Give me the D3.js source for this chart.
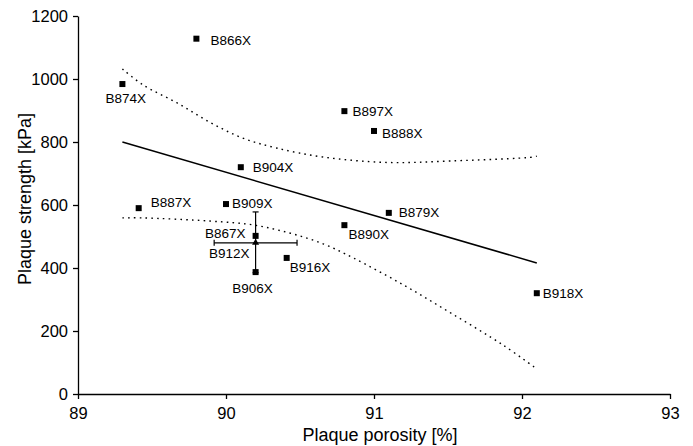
<!DOCTYPE html>
<html>
<head>
<meta charset="utf-8">
<script src="https://cdn.jsdelivr.net/npm/d3@7"></script>
<style>
  body { margin: 0; background: #fff; }
  svg text { font-family: "Liberation Sans", Arial, sans-serif; fill: #000; }
</style>
</head>
<body>
<div id="chart"></div>
<script>
// samples (porosity %, strength kPa)
var names = ["B866X", "B874X", "B897X", "B888X", "B904X", "B887X", "B909X", "B879X", "B890X", "B867X", "B906X", "B916X", "B918X"];
var porosity = [89.8, 89.3, 90.8, 91.0, 90.1, 89.41, 90.0, 91.1, 90.8, 90.2, 90.2, 90.41, 92.1];
var strength = [1128, 984, 898, 835, 720, 590, 603, 575, 536, 502, 387, 432, 320];
// label placement: [dx, dy, anchor]
var labelPos = [
  [14, 2, "start"], [-17, 14, "start"], [8, 0, "start"], [8, 2, "start"], [12, 0, "start"],
  [12, -6, "start"], [6, -1, "start"], [10, -1, "start"], [4, 9, "start"], [-10, -3, "end"],
  [-3, 16, "middle"], [3, 9, "start"], [6, 0, "start"]
];

// mean sample with error bars
var meanName = "B912X";
var meanPorosity = 90.2, meanStrength = 480;
var meanPorosityRange = [89.92, 90.48];
var meanStrengthRange = [385, 578];

// regression line and confidence band
var fitX = [89.3, 92.1];
var fitY = [800, 416];
var upperX = [89.3, 89.44, 89.67, 89.89, 90.11, 90.34, 90.66, 91.09, 91.53, 92.07, 92.1];
var upperY = [1032, 981, 924, 863, 813, 781, 752, 735, 740, 752, 755];
var lowerX = [89.3, 89.44, 89.89, 90.18, 90.43, 90.66, 90.86, 91.2, 91.53, 91.87, 92.09];
var lowerY = [559, 559, 549, 537, 511, 476, 432, 346, 254, 156, 83];

var xTicks = [89, 90, 91, 92, 93];
var yTicks = [0, 200, 400, 600, 800, 1000, 1200];

var width = 693, height = 446;
var margin = { top: 16, right: 23, bottom: 52, left: 78 };

var svg = d3.select('#chart').append('svg')
    .attr('width', width)
    .attr('height', height);

var x = d3.scaleLinear().domain([89, 93]).range([margin.left, width - margin.right]);
var y = d3.scaleLinear().domain([0, 1200]).range([height - margin.bottom, margin.top]);

var xAxis = svg.append('g')
    .attr('transform', 'translate(0,' + y(0) + ')')
    .call(d3.axisBottom(x).tickValues(xTicks).tickFormat(d3.format('d')).tickSize(5).tickPadding(8).tickSizeOuter(0));
var yAxis = svg.append('g')
    .attr('transform', 'translate(' + x(89) + ',0)')
    .call(d3.axisLeft(y).tickValues(yTicks).tickFormat(d3.format('d')).tickSize(5).tickPadding(5).tickSizeOuter(0));

[xAxis, yAxis].forEach(function (a) {
    a.selectAll('text').style('font-size', '16.5px').attr('fill', '#000');
    a.selectAll('line').attr('stroke', '#000').attr('stroke-width', 1.3);
    a.select('.domain').attr('stroke', '#000').attr('stroke-width', 1.3);
});

svg.append('text')
    .attr('x', 380)
    .attr('y', 441)
    .attr('text-anchor', 'middle')
    .style('font-size', '18px')
    .text('Plaque porosity [%]');

svg.append('text')
    .attr('transform', 'translate(31,' + 199 + ') rotate(-90)')
    .attr('text-anchor', 'middle')
    .style('font-size', '18px')
    .text('Plaque strength [kPa]');

// fit line
var line = d3.line().x(function (d) { return x(d[0]); }).y(function (d) { return y(d[1]); });
svg.append('path')
    .datum(d3.zip(fitX, fitY))
    .attr('d', line)
    .attr('fill', 'none')
    .attr('stroke', '#000')
    .attr('stroke-width', 1.5);

// confidence band (dotted)
var curve = d3.line().curve(d3.curveCatmullRom.alpha(0.5))
    .x(function (d) { return x(d[0]); }).y(function (d) { return y(d[1]); });
[d3.zip(upperX, upperY), d3.zip(lowerX, lowerY)].forEach(function (pts) {
    svg.append('path')
        .datum(pts)
        .attr('d', curve)
        .attr('fill', 'none')
        .attr('stroke', '#000')
        .attr('stroke-width', 1.4)
        .attr('stroke-dasharray', '1.6,4.2');
});

// error bars
var eb = svg.append('g').attr('stroke', '#000').attr('stroke-width', 1.2);
eb.append('line')
    .attr('x1', x(meanPorosityRange[0])).attr('x2', x(meanPorosityRange[1]))
    .attr('y1', y(meanStrength)).attr('y2', y(meanStrength));
eb.append('line')
    .attr('x1', x(meanPorosity)).attr('x2', x(meanPorosity))
    .attr('y1', y(meanStrengthRange[0])).attr('y2', y(meanStrengthRange[1]));
meanPorosityRange.forEach(function (v) {
    eb.append('line').attr('x1', x(v)).attr('x2', x(v))
        .attr('y1', y(meanStrength) - 3).attr('y2', y(meanStrength) + 3);
});
meanStrengthRange.forEach(function (v) {
    eb.append('line').attr('x1', x(meanPorosity) - 3).attr('x2', x(meanPorosity) + 3)
        .attr('y1', y(v)).attr('y2', y(v));
});
svg.append('path')
    .attr('d', d3.symbol(d3.symbolTriangle, 22)())
    .attr('transform', 'translate(' + x(meanPorosity) + ',' + y(meanStrength) + ')')
    .attr('fill', '#000');
svg.append('text')
    .attr('x', x(meanPorosity) - 6)
    .attr('y', y(meanStrength) + 10)
    .attr('dy', '0.35em')
    .attr('text-anchor', 'end')
    .style('font-size', '13.5px')
    .text(meanName);

// points
var pts = svg.append('g');
names.forEach(function (n, i) {
    var px = x(porosity[i]), py = y(strength[i]);
    pts.append('rect')
        .attr('x', px - 3).attr('y', py - 3)
        .attr('width', 6).attr('height', 6)
        .attr('fill', '#000');
    pts.append('text')
        .attr('x', px + labelPos[i][0])
        .attr('y', py + labelPos[i][1])
        .attr('dy', '0.35em')
        .attr('text-anchor', labelPos[i][2])
        .style('font-size', '13.5px')
        .text(n);
});
</script>
</body>
</html>
